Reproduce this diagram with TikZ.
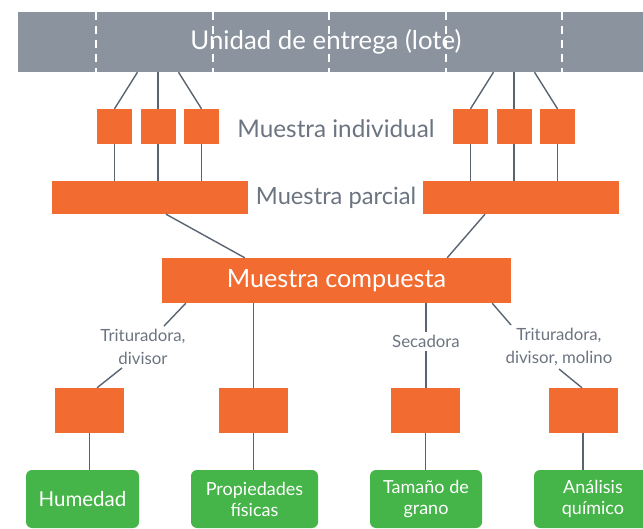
\documentclass[tikz,border=0pt]{standalone}
\usepackage{fontspec}
\setmainfont{Lato}
\usetikzlibrary{calc}
\definecolor{orangebox}{HTML}{F26B30}
\definecolor{graybar}{HTML}{8A939E}
\definecolor{greenbox}{HTML}{46B549}
\definecolor{labelgray}{HTML}{6B7480}
\definecolor{linegray}{HTML}{5A6470}
\tikzset{
  obox/.style={fill=orangebox, draw=none, inner sep=0pt},
  sbox/.style={obox, minimum width=35pt, minimum height=35pt},
  pbox/.style={obox, minimum width=196pt, minimum height=33pt},
  bbox/.style={obox, minimum width=69pt, minimum height=45pt},
  gbox/.style={fill=greenbox, draw=none, rounded corners=6pt, inner sep=0pt,
    minimum height=58pt, text=white, align=center,
    font=\fontsize{18}{21}\selectfont},
  lbl/.style={text=labelgray, inner sep=0pt, align=center},
  conn/.style={draw=linegray, line width=1.4pt},
  dashsep/.style={draw=white, line width=1.8pt, dash pattern=on 8pt off 6pt}
}
\begin{document}
\begin{tikzpicture}[x=1pt,y=-1pt]
\useasboundingbox (0,0) rectangle (643,529);
% top bar
\node[fill=graybar, inner sep=0pt, minimum width=627pt, minimum height=60pt] (bar) at (331.5,42) {};
\foreach \dx in {78,195,311,428,544}
  \draw[dashsep] ([xshift=\dx pt]bar.north west) -- ([xshift=\dx pt]bar.south west);
\node[text=white, font=\fontsize{25.8}{29}\selectfont, inner sep=0pt] (bartext) at (326,42) {Unidad de entrega (lote)};
% individual samples
\node[sbox] (i1) at (114.5,126.5) {};
\node[sbox] (i2) at (158,126.5) {};
\node[sbox] (i3) at (201.5,126.5) {};
\node[sbox] (i4) at (470.5,126.5) {};
\node[sbox] (i5) at (514,126.5) {};
\node[sbox] (i6) at (557.5,126.5) {};
\node[lbl, font=\fontsize{24.3}{28}\selectfont] (lind) at (336,129) {Muestra individual};
% partial samples
\node[pbox] (p1) at (150,197.5) {};
\node[pbox] (p2) at (521,197.5) {};
\node[lbl, font=\fontsize{23.7}{28}\selectfont] (lpar) at (336,198) {Muestra parcial};
% composite
\node[obox, minimum width=349pt, minimum height=45pt, text=white,
  font=\fontsize{25.2}{28}\selectfont] (comp) at (336.5,280.5) {Muestra compuesta};
% labels
\node[lbl, font=\fontsize{16.8}{23}\selectfont] (l1) at (143,347) {Trituradora,\\divisor};
\node[lbl, font=\fontsize{16.8}{23}\selectfont] (l3) at (426,341) {Secadora};
\node[lbl, font=\fontsize{16.8}{23}\selectfont] (l4) at (559,347) {Trituradora,\\divisor, molino};
% bottom boxes
\node[bbox] (b1) at (89.5,410.5) {};
\node[bbox] (b2) at (253.5,410.5) {};
\node[bbox] (b3) at (425.5,410.5) {};
\node[bbox] (b4) at (583,410.5) {};
% green boxes
\node[gbox, minimum width=113pt, font=\fontsize{20.5}{24}\selectfont] (g1) at (82.5,499) {Humedad};
\node[gbox, minimum width=127pt] (g2) at (254.5,499) {Propiedades\\físicas};
\node[gbox, minimum width=112pt] (g3) at (426,499) {Tamaño de\\grano};
\node[gbox, minimum width=118pt] (g4) at (593,499) {Análisis\\químico};
% connectors bar -> individual
\draw[conn] (i1.north) -- ([xshift=23pt]i1.north |- bar.south);
\draw[conn] (i2.north) -- (i2.north |- bar.south);
\draw[conn] (i3.north) -- ([xshift=-23pt]i3.north |- bar.south);
\draw[conn] (i4.north) -- ([xshift=23pt]i4.north |- bar.south);
\draw[conn] (i5.north) -- (i5.north |- bar.south);
\draw[conn] (i6.north) -- ([xshift=-23pt]i6.north |- bar.south);
% individual -> partial
\foreach \n in {i1,i2,i3}
  \draw[conn] (\n.south) -- (\n.south |- p1.north);
\foreach \n in {i4,i5,i6}
  \draw[conn] (\n.south) -- (\n.south |- p2.north);
% partial -> composite
\draw[conn] ([xshift=16pt]p1.south) -- ([xshift=83pt]comp.north west);
\draw[conn] ([xshift=-36pt]p2.south) -- ([xshift=-64pt]comp.north east);
% composite -> labels / boxes
\draw[conn] ([xshift=24pt]comp.south west) -- ([xshift=21pt,yshift=3pt]l1.north);
\draw[conn] ([xshift=-21pt,yshift=-3pt]l1.south) -- ([xshift=7.5pt]b1.north);
\draw[conn] (b2.north |- comp.south) -- (b2.north);
\draw[conn] (l3.north |- comp.south) -- ([yshift=3pt]l3.north);
\draw[conn] ([yshift=-4pt]l3.south) -- (l3.south |- b3.north);
\draw[conn] ([xshift=-19pt]comp.south east) -- ([xshift=-48pt,yshift=3pt]l4.north);
\draw[conn] ([xshift=0pt,yshift=-3pt]l4.south) -- ([xshift=-1pt]b4.north);
% bottom boxes -> green
\draw[conn] (b1.south) -- (b1.south |- g1.north);
\draw[conn] (b2.south) -- (b2.south |- g2.north);
\draw[conn] (b3.south) -- (b3.south |- g3.north);
\draw[conn] (b4.south) -- (b4.south |- g4.north);
\end{tikzpicture}
\end{document}
